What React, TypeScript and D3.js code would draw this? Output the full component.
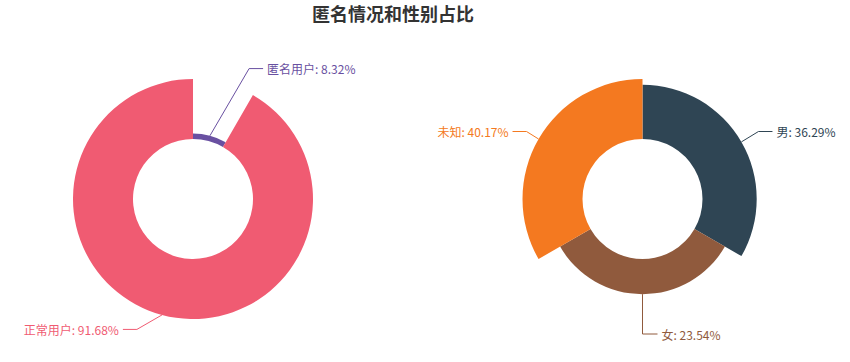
import * as d3 from 'd3';

// anonymity split (rose by radius: angle and radius follow the value)
const anonLabels = ['匿名用户', '正常用户'];
const anonValues = [8.32, 91.68];
const anonColors = ['#6950a1', '#f05b72'];

// gender split (rose by area: equal angles, radius follows the value)
const genderLabels = ['男', '女', '未知'];
const genderValues = [36.29, 23.54, 40.17];
const genderColors = ['#2f4554', '#905a3d', '#f47920'];

const width = 850;
const height = 362;
const r0 = 60;
const r1 = 120;
const lineLen = 15;
const lineLen2 = 15;
const font = '"Noto Sans CJK SC", "Noto Sans", sans-serif';

type Slice = { label: string; value: number; color: string };

const Rose = ({ cx, cy, data, equalAngles }: { cx: number; cy: number; data: Slice[]; equalAngles: boolean }) => {
  const max = d3.max(data, d => d.value) as number;
  const rScale = d3.scaleLinear().domain([0, max]).range([r0, r1]);
  const pie = d3.pie<Slice>().sort(null).value(d => (equalAngles ? 1 : d.value));
  const arcs = pie(data);
  const arc = d3.arc<d3.PieArcDatum<Slice>>().innerRadius(r0).outerRadius(d => rScale(d.data.value));

  return (
    <g>
      {arcs.map((a, i) => (
        <path key={'s' + i} d={arc(a) || ''} transform={`translate(${cx},${cy})`} fill={a.data.color} />
      ))}
      {arcs.map((a, i) => {
        // label line like echarts: radial piece to r1 + len, then horizontal
        const mid = (a.startAngle + a.endAngle) / 2;
        const sx = Math.sin(mid);
        const sy = -Math.cos(mid);
        const r = rScale(a.data.value);
        const x1 = cx + r * sx;
        const y1 = cy + r * sy;
        const ey = cy + (r1 + lineLen) * sy;
        const dir = sx < -1e-9 ? -1 : 1;
        const dy = Math.abs(ey - cy);
        let elbowX, endX, textX;
        if (dy < r1 + lineLen - 0.01) {
          const full = r1 + lineLen + lineLen2;
          textX = cx + dir * Math.sqrt(full * full - dy * dy);
          endX = textX - dir * 4;
          elbowX = textX - dir * 18;
        } else {
          elbowX = cx + (r1 + lineLen) * sx;
          endX = elbowX + dir * lineLen2;
          textX = endX + dir * 4;
        }
        return (
          <g key={'l' + i}>
            <polyline
              points={`${x1},${y1} ${elbowX},${ey} ${endX},${ey}`}
              fill="none"
              stroke={a.data.color}
              strokeWidth={1}
            />
            <text
              x={textX}
              y={ey}
              fill={a.data.color}
              fontSize={12}
              fontFamily={font}
              dominantBaseline="central"
              textAnchor={dir < 0 ? 'end' : 'start'}
            >
              {`${a.data.label}: ${a.data.value}%`}
            </text>
          </g>
        );
      })}
    </g>
  );
};

export default function App() {
  const anon = anonLabels.map((l, i) => ({ label: l, value: anonValues[i], color: anonColors[i] }));
  const gender = genderLabels.map((l, i) => ({ label: l, value: genderValues[i], color: genderColors[i] }));
  return (
    <div style={{ position: 'absolute', left: 0, top: 0 }}>
      <svg width={width} height={height} style={{ display: 'block', background: '#fff' }}>
        <text x={393} y={21} textAnchor="middle" fontSize={18} fontWeight="bold" fill="#333" fontFamily={font}>
          匿名情况和性别占比
        </text>
        <Rose cx={193} cy={199} data={anon} equalAngles={false} />
        <Rose cx={642.5} cy={199} data={gender} equalAngles={true} />
      </svg>
    </div>
  );
}
